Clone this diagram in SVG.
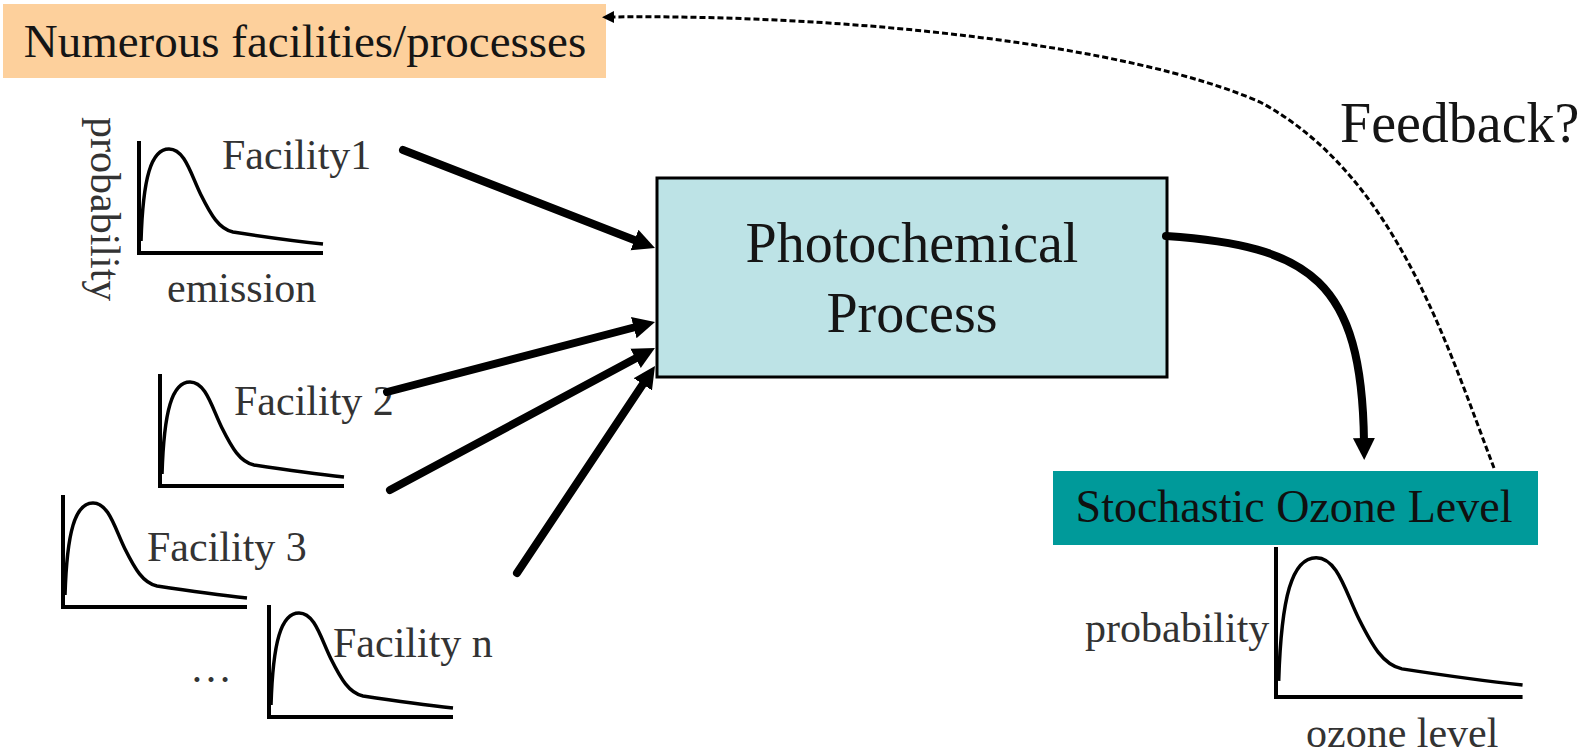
<svg xmlns="http://www.w3.org/2000/svg" xmlns:xlink="http://www.w3.org/1999/xlink" width="1594" height="753" viewBox="0 0 1594 753">
  <style>
    text { font-family: "Liberation Serif", "Times New Roman", serif; }
    .title { font-size: 47px; fill: #151515; }
    .big { font-size: 56px; fill: #151515; }
    .box-label { font-size: 46px; fill: #101010; }
    .lbl { font-size: 42px; fill: #333333; }
    .axis { fill: none; stroke: #000; stroke-width: 4; vector-effect: non-scaling-stroke; }
    .curve { fill: none; stroke: #000; stroke-width: 3.5; stroke-linejoin: round; vector-effect: non-scaling-stroke; }
    .flow { fill: none; stroke: #000; stroke-width: 8; stroke-linecap: round; }
    .feedback { fill: none; stroke: #000; stroke-width: 3; stroke-dasharray: 6 3; }
  </style>
  <defs>
    <marker id="head" markerUnits="userSpaceOnUse" markerWidth="26" markerHeight="26" refX="4" refY="13" orient="auto">
      <path d="M0,2 L22,13 L0,24 z" fill="#000"/>
    </marker>
    <marker id="head-small" markerUnits="userSpaceOnUse" markerWidth="14" markerHeight="14" refX="2" refY="7" orient="auto">
      <path d="M0,1 L12,7 L0,13 z" fill="#000"/>
    </marker>
    <!-- skewed distribution plot, origin at the axis corner -->
    <g id="pdf">
      <path class="axis" d="M0,-112 V0 H184"/>
      <path class="curve" d="M2,-12 C4,-75 12,-104 30,-104 C46,-104 52,-78 62,-58 C72,-38 80,-24 94,-21 C120,-17 155,-12 184,-9"/>
    </g>
  </defs>

  <!-- sources banner -->
  <g id="node-sources">
    <rect x="3" y="4" width="603" height="74" fill="#fdd09c"/>
    <text class="title" x="305" y="57" text-anchor="middle">Numerous facilities/processes</text>
  </g>

  <!-- emission distributions -->
  <g id="node-facility1">
    <use xlink:href="#pdf" transform="translate(139,253)"/>
    <text class="lbl" x="222" y="169">Facility1</text>
    <text class="lbl" x="167" y="302">emission</text>
    <text class="lbl" transform="translate(91,117) rotate(90)">probability</text>
  </g>
  <g id="node-facility2">
    <use xlink:href="#pdf" transform="translate(160,486)"/>
    <text class="lbl" x="234" y="415">Facility 2</text>
  </g>
  <g id="node-facility3">
    <use xlink:href="#pdf" transform="translate(63,607)"/>
    <text class="lbl" x="147" y="561">Facility 3</text>
  </g>
  <g id="node-facilityn">
    <use xlink:href="#pdf" transform="translate(269,717)"/>
    <text class="lbl" x="333" y="657">Facility n</text>
    <text class="lbl" x="190" y="682">…</text>
  </g>

  <!-- central process -->
  <g id="node-process">
    <rect x="657" y="178" width="510" height="199" fill="#bde3e6" stroke="#000" stroke-width="3"/>
    <text class="big" x="912" y="262" text-anchor="middle">Photochemical</text>
    <text class="big" x="912" y="332" text-anchor="middle">Process</text>
  </g>

  <!-- result -->
  <g id="node-ozone">
    <rect x="1053" y="471" width="485" height="74" fill="#009a9a"/>
    <text class="box-label" x="1294" y="522" text-anchor="middle">Stochastic Ozone Level</text>
    <use xlink:href="#pdf" transform="translate(1276,697) scale(1.34)"/>
    <text class="lbl" x="1085" y="642">probability</text>
    <text class="lbl" x="1306" y="747">ozone level</text>
  </g>

  <g id="connectors">
    <path class="flow" d="M403,150 L638.2,241.5" marker-end="url(#head)"/>
    <path class="flow" d="M387,392 L637.6,326.5" marker-end="url(#head)"/>
    <path class="flow" d="M390,490 L639.1,356.5" marker-end="url(#head)"/>
    <path class="flow" d="M517,573 L645,381" marker-end="url(#head)"/>
    <path class="flow" stroke-width="9" d="M1166,236 C1310,246 1362,280 1364,442" marker-end="url(#head)"/>
    <path class="feedback" d="M1494,468 C1445,340 1395,175 1260,102 C1130,45 850,14 612,17" marker-end="url(#head-small)"/>
  </g>

  <g id="label-feedback">
    <text class="big" x="1340" y="142">Feedback?</text>
  </g>
</svg>
